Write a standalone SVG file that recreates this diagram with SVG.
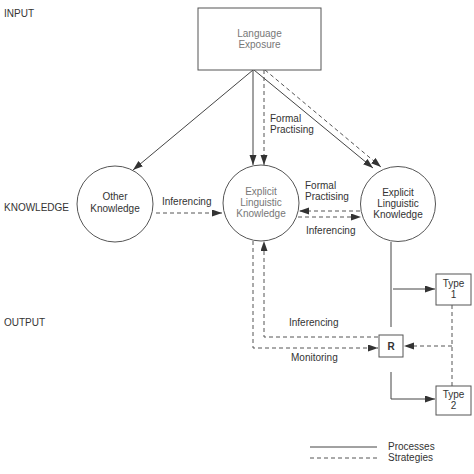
<svg xmlns="http://www.w3.org/2000/svg" width="474" height="474" viewBox="0 0 474 474">
<defs>
<marker id="ah" markerUnits="userSpaceOnUse" markerWidth="10" markerHeight="8" refX="10" refY="3.5" orient="auto">
<path d="M0,0 L10,3.5 L0,7 z" fill="#333"/>
</marker>
<style>
text{font-family:"Liberation Sans",Arial,sans-serif;font-size:10px;fill:#333}
.c{text-anchor:middle}
.g{fill:#777}
.shape{fill:#fff;stroke:#555;stroke-width:1}
.ln{fill:none;stroke:#444;stroke-width:1}
.ds{fill:none;stroke:#555;stroke-width:1;stroke-dasharray:4 3}
.ar{marker-end:url(#ah)}
</style>
</defs>
<rect width="474" height="474" fill="#fff"/>
<g id="labels">
<text x="4" y="17">INPUT</text>
<text x="4" y="211">KNOWLEDGE</text>
<text x="4" y="326">OUTPUT</text>
</g>
<g id="connectors">
<line class="ln ar" x1="253" y1="70" x2="253" y2="165"/>
<line class="ds ar" x1="264" y1="70" x2="264" y2="165"/>
<line class="ln ar" x1="253" y1="70" x2="133" y2="170"/>
<line class="ln ar" x1="254" y1="70" x2="373" y2="168"/>
<line class="ds ar" x1="265" y1="70" x2="381" y2="167"/>
<line class="ds ar" x1="156" y1="213" x2="222" y2="213"/>
<line class="ds ar" x1="360" y1="211" x2="299" y2="211"/>
<line class="ds ar" x1="298" y1="217" x2="361" y2="217"/>
<polyline class="ds ar" points="378,337 264,337 264,241"/>
<polyline class="ds ar" points="253,241 253,348 378,348"/>
<line class="ln" x1="391" y1="242" x2="391" y2="327"/>
<line class="ln ar" x1="393" y1="289" x2="435" y2="289"/>
<polyline class="ln ar" points="391,372 391,399 435,399"/>
<line class="ds" x1="452" y1="305" x2="452" y2="386"/>
<line class="ds ar" x1="452" y1="346" x2="404" y2="346"/>
<text x="270" y="122">Formal</text>
<text x="270" y="133">Practising</text>
<text x="162" y="205">Inferencing</text>
<text x="305" y="189">Formal</text>
<text x="305" y="200">Practising</text>
<text x="306" y="234">Inferencing</text>
<text x="289" y="326">Inferencing</text>
<text x="291" y="361">Monitoring</text>
</g>
<g id="language-exposure">
<rect class="shape" x="198" y="8" width="123" height="62"/>
<text class="c g" x="259.5" y="37">Language</text>
<text class="c g" x="259.5" y="48">Exposure</text>
</g>
<g id="other-knowledge">
<circle class="shape" cx="115" cy="204" r="38"/>
<text class="c" x="115" y="200">Other</text>
<text class="c" x="115" y="212">Knowledge</text>
</g>
<g id="explicit-1">
<circle class="shape" cx="261" cy="203" r="38"/>
<text class="c g" x="261" y="195">Explicit</text>
<text class="c g" x="261" y="206">Linguistic</text>
<text class="c g" x="261" y="217">Knowledge</text>
</g>
<g id="explicit-2">
<circle class="shape" cx="398" cy="204" r="37.5"/>
<text class="c" x="398" y="196">Explicit</text>
<text class="c" x="398" y="207">Linguistic</text>
<text class="c" x="398" y="218">Knowledge</text>
</g>
<g id="r">
<rect class="shape" x="379" y="335" width="24" height="22"/>
<text class="c" x="391" y="350" font-weight="bold">R</text>
</g>
<g id="type1">
<rect class="shape" x="436" y="274" width="35" height="31"/>
<text class="c" x="453.5" y="287">Type</text>
<text class="c" x="453.5" y="298">1</text>
</g>
<g id="type2">
<rect class="shape" x="436" y="386" width="35" height="29"/>
<text class="c" x="453.5" y="398">Type</text>
<text class="c" x="453.5" y="409">2</text>
</g>
<g id="legend">
<line class="ln" x1="310" y1="447" x2="377" y2="447"/>
<line class="ds" x1="310" y1="458" x2="377" y2="458"/>
<text x="388" y="450">Processes</text>
<text x="388" y="461">Strategies</text>
</g>
</svg>
